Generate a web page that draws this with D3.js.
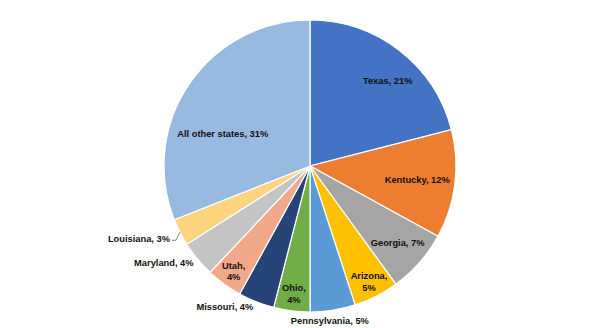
<!DOCTYPE html>
<html>
<head>
<meta charset="utf-8">
<script src="https://cdn.jsdelivr.net/npm/d3@7"></script>
<style>
  body { margin: 0; background: #fff; }
  svg text { font-family: "Liberation Sans", Arial, sans-serif; font-weight: bold; font-size: 9.3px; fill: #111; }
</style>
</head>
<body>
<svg width="600" height="328"></svg>
<script>
// share of total, by state
var states = ["Texas", "Kentucky", "Georgia", "Arizona", "Pennsylvania", "Ohio",
  "Missouri", "Utah", "Maryland", "Louisiana", "All other states"];
var shares = [21, 12, 7, 5, 5, 4, 4, 4, 4, 3, 31];
var colors = ["#4472c4", "#ed7d31", "#a5a5a5", "#ffc000", "#5b9bd5", "#70ad47",
  "#264478", "#f1a98a", "#c4c4c4", "#ffd47f", "#98b9e0"];

// where each label sits: inside at a fraction of the radius (plus a nudge), or just outside the rim
var labelSpot = {
  "Texas": {k: 0.79, dx: 7, dy: 6},
  "Kentucky": {k: 0.74},
  "Georgia": {k: 0.8},
  "Arizona": {k: 0.89, wrap: true},
  "Ohio": {k: 0.88, wrap: true},
  "Utah": {k: 0.89, wrap: true},
  "All other states": {k: 0.64, dx: -10, dy: 20},
  "Pennsylvania": {out: true, dx: -3, dy: 11, anchor: "middle"},
  "Missouri": {out: true, dx: -3, dy: 5, anchor: "end"},
  "Maryland": {out: true, dx: -4, dy: 4, anchor: "end"},
  "Louisiana": {out: true, dx: -10, dy: 6, anchor: "end", leader: true}
};

var svg = d3.select("svg");
var cx = 310, cy = 166, radius = 146;

var data = states.map(function(s, i) { return {name: s, value: shares[i], color: colors[i]}; });

var pie = d3.pie().sort(null).value(function(d) { return d.value; });
var arc = d3.arc().innerRadius(0).outerRadius(radius);
var arcs = pie(data);

var g = svg.append("g").attr("transform", "translate(" + cx + "," + cy + ")");

g.selectAll("path")
  .data(arcs)
  .enter().append("path")
    .attr("d", arc)
    .attr("fill", function(d) { return d.data.color; })
    .attr("stroke", "#fff")
    .attr("stroke-width", 1.2);

function polar(a, r) { return [r * Math.sin(a), -r * Math.cos(a)]; }

arcs.forEach(function(d) {
  var spot = labelSpot[d.data.name];
  var mid = (d.startAngle + d.endAngle) / 2;
  var label = d.data.name + ", " + d.data.value + "%";
  var p, anchor = "middle";
  if (spot.out) {
    var edge = polar(mid, radius);
    p = [edge[0] + spot.dx, edge[1] + spot.dy];
    anchor = spot.anchor;
    if (spot.leader) {
      g.append("polyline")
        .attr("points", [edge, [p[0] + 6, p[1] + 2], [p[0] + 2, p[1] + 2]].map(function(q) { return q.join(","); }).join(" "))
        .attr("fill", "none")
        .attr("stroke", "#666")
        .attr("stroke-width", 0.8);
    }
  } else {
    p = polar(mid, radius * spot.k);
    p = [p[0] + (spot.dx || 0), p[1] + (spot.dy || 0)];
  }
  var t = g.append("text")
    .attr("text-anchor", anchor)
    .attr("x", p[0])
    .attr("y", p[1]);
  if (spot.wrap) {
    t.append("tspan").attr("x", p[0]).attr("dy", "-0.25em").text(d.data.name + ",");
    t.append("tspan").attr("x", p[0]).attr("dy", "1.25em").text(d.data.value + "%");
  } else {
    t.attr("dy", "0.35em").text(label);
  }
});
</script>
</body>
</html>
